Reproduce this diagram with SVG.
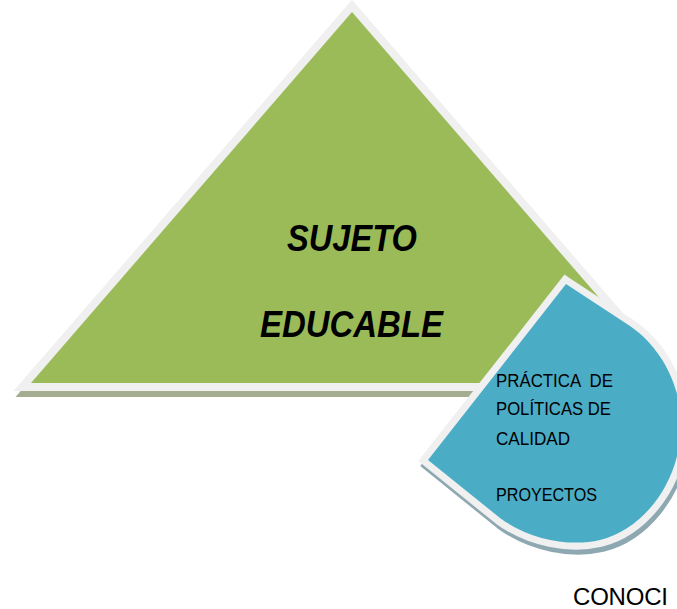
<svg xmlns="http://www.w3.org/2000/svg" width="677" height="609" viewBox="0 0 677 609">
  <style>
    .border { stroke: #f0f0f0; stroke-width: 16; stroke-linejoin: miter; stroke-miterlimit: 10; paint-order: stroke; }
    .bborder { stroke: #f0f0f0; stroke-width: 14; stroke-linejoin: miter; stroke-miterlimit: 10; paint-order: stroke; }
    .big { font-family: "Liberation Sans", Arial, sans-serif; font-weight: bold; font-style: italic; font-size: 36px; fill: #000; }
    .small { font-family: "Liberation Sans", Arial, sans-serif; font-size: 18px; fill: #000; white-space: pre; }
    .plain { font-family: "Liberation Sans", Arial, sans-serif; font-size: 24px; fill: #000; }
  </style>
  <defs>
    <polygon id="tri" points="352,12 31,383 673,383"/>
    <path id="drop" d="M 566,284 L 630,326 C 668,352 686,400 680,440 C 674,490 640,530 600,540 C 570,547 530,540 500,518 L 428,460 Z"/>
  </defs>
  <rect width="677" height="609" fill="#ffffff"/>
  <g id="sujeto-educable">
    <use href="#tri" transform="translate(2,6)" fill="#a4ad8f" stroke="#a4ad8f" stroke-width="16" stroke-miterlimit="10"/>
    <use href="#tri" class="border" fill="#9bbb59"/>
    <text class="big" x="287" y="251" textLength="130" lengthAdjust="spacingAndGlyphs">SUJETO</text>
    <text class="big" x="260" y="337" textLength="183" lengthAdjust="spacingAndGlyphs">EDUCABLE</text>
  </g>
  <g id="practica">
    <use href="#drop" transform="translate(2,5)" fill="#8ea8b1" stroke="#8ea8b1" stroke-width="14" stroke-miterlimit="10"/>
    <use href="#drop" class="bborder" fill="#4bacc6"/>
    <text class="small" x="496" y="387" xml:space="preserve" textLength="117" lengthAdjust="spacingAndGlyphs">PRÁCTICA  DE</text>
    <text class="small" x="496" y="415" textLength="115" lengthAdjust="spacingAndGlyphs">POLÍTICAS DE</text>
    <text class="small" x="496" y="445" textLength="74" lengthAdjust="spacingAndGlyphs">CALIDAD</text>
    <text class="small" x="496" y="501" textLength="101" lengthAdjust="spacingAndGlyphs">PROYECTOS</text>
  </g>
  <g id="conoci">
    <text class="plain" x="573" y="605" textLength="95">CONOCI</text>
  </g>
  <g id="connectors"/>
</svg>
